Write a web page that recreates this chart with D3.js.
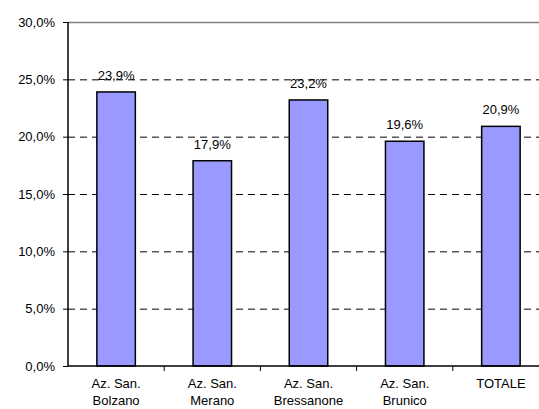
<!DOCTYPE html>
<html>
<head>
<meta charset="utf-8">
<script src="https://cdn.jsdelivr.net/npm/d3@7"></script>
<style>
  body { margin: 0; background: #fff; }
  svg { display: block; }
  text { font-family: Arial, "Liberation Sans", sans-serif; font-size: 13px; fill: #000; }
</style>
</head>
<body>
<svg id="chart" width="539" height="409"></svg>
<script>
const categories = [["Az. San.", "Bolzano"], ["Az. San.", "Merano"], ["Az. San.", "Bressanone"], ["Az. San.", "Brunico"], ["TOTALE"]];
const values = [23.9, 17.9, 23.2, 19.6, 20.9];
const yTicks = [0, 5, 10, 15, 20, 25, 30];

const fmt = v => v.toFixed(1).replace('.', ',') + '%';

const svg = d3.select('#chart'),
    plotL = 68, plotR = 549, plotT = 22, plotB = 366;

const x = d3.scaleBand().domain(d3.range(values.length)).range([plotL, plotR]).paddingInner(0.6).paddingOuter(0.3);
const xb = d3.scaleBand().domain(d3.range(values.length)).range([plotL, plotR]);
const y = d3.scaleLinear().domain([0, 30]).range([plotB, plotT]);

// gridlines
svg.append('g').selectAll('line')
    .data(yTicks.filter(t => t > 0 && t < 30))
    .join('line')
    .attr('x1', plotL).attr('x2', plotR)
    .attr('y1', d => y(d) + 0.5).attr('y2', d => y(d) + 0.5)
    .attr('stroke', '#000').attr('stroke-dasharray', '7,5');

// top frame line
svg.append('line')
    .attr('x1', plotL).attr('x2', plotR)
    .attr('y1', plotT + 0.5).attr('y2', plotT + 0.5)
    .attr('stroke', '#808080').attr('stroke-width', 1.5);

// bars
svg.append('g').selectAll('rect')
    .data(values)
    .join('rect')
    .attr('x', (d, i) => x(i))
    .attr('width', x.bandwidth())
    .attr('y', d => y(d))
    .attr('height', d => y(0) - y(d))
    .attr('fill', '#9999ff')
    .attr('stroke', '#000').attr('stroke-width', 1.5);

// data labels
svg.append('g').selectAll('text')
    .data(values)
    .join('text')
    .attr('x', (d, i) => x(i) + x.bandwidth() / 2)
    .attr('y', d => y(d) - 12)
    .attr('text-anchor', 'middle')
    .text(fmt);

// y axis
const ya = svg.append('g').attr('transform', `translate(${plotL},0)`)
    .call(d3.axisLeft(y).tickValues(yTicks).tickSize(5).tickPadding(8).tickFormat(fmt));
ya.select('.domain').attr('stroke-width', 1.5).attr('d', `M0,${plotT}V${plotB}`);
ya.selectAll('.tick text').attr('font-size', 13).attr('font-family', 'Arial, "Liberation Sans", sans-serif');

// x axis
svg.append('line')
    .attr('x1', plotL).attr('x2', plotR)
    .attr('y1', plotB).attr('y2', plotB)
    .attr('stroke', '#000').attr('stroke-width', 1.5);
svg.append('g').selectAll('line')
    .data(d3.range(1, values.length))
    .join('line')
    .attr('x1', i => xb(i)).attr('x2', i => xb(i))
    .attr('y1', plotB).attr('y2', plotB + 5)
    .attr('stroke', '#000');

svg.append('g').selectAll('text')
    .data(categories)
    .join('text')
    .attr('text-anchor', 'middle')
    .attr('transform', (d, i) => `translate(${xb(i) + xb.bandwidth() / 2},${plotB + 22})`)
    .selectAll('tspan')
    .data(d => d)
    .join('tspan')
    .attr('x', 0)
    .attr('dy', (d, j) => j ? 17 : 0)
    .text(d => d);
</script>
</body>
</html>
